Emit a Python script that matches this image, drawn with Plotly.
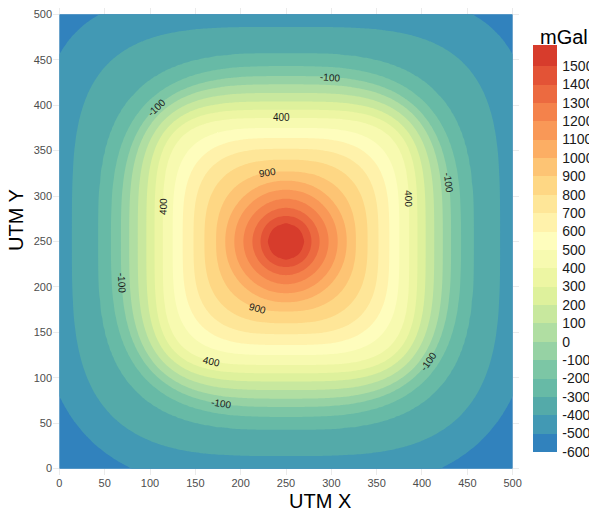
import numpy as np
import plotly.graph_objects as go

# Gravity anomaly (mGal) over a 500 x 500 UTM block.
# Each contour level is described by where it crosses the centre lines
# (distance from the anomaly centre along x / y) and the diagonals
# (offset along each axis where it crosses |dx| = |dy|).
levels = [-600, -500, -400, -300, -200, -100, 0, 100, 200, 300, 400, 500,
          600, 700, 800, 900, 1000, 1100, 1200, 1300, 1400, 1500]
axis_dist = [330, 275, 236, 207, 193, 182, 173, 163.5, 154, 145, 136, 125,
             114, 102, 90, 77, 67, 57, 47, 37, 28, 20]
diag_dist_south = [262, 217, 192, 165, 153, 145.5, 140, 134, 128, 122, 115, 104,
                   93, 82, 70, 58, 48, 40.5, 33, 26, 20, 14]
diag_dist_north = [275, 231, 196, 165, 153, 145.5, 140, 134, 128, 122, 115, 104,
                   93, 82, 70, 58, 48, 40.5, 33, 26, 20, 14]
peak_mgal = 1610
centre_x, centre_y = 250, 250

# contour labels: level and bearing (degrees from +x, about the centre)
label_levels = [-100, -100, -100, -100, -100, -100, 400, 400, 400, 400, 900, 900]
label_bearings = [75, 134, 194, 248, 20, 320, 92, 164, 19, 238, 105, 247]

axis_ticks = list(range(0, 501, 50))
cbar_vals = list(range(-600, 1501, 100))
cbar_text = [str(v) for v in cbar_vals]

# fill colour below -600, then one colour per 100 mGal band up to 1500+
band_colors = ['#3182bd', '#3182bd', '#4299b4', '#54aaa9', '#67baa6', '#7cc6a5',
               '#96d2a4', '#b0dea2', '#c8e89e', '#def19c', '#edf6a3', '#f7fab0',
               '#fefdbd', '#fff2ab', '#fee698', '#fed784', '#fdc474', '#fcae64',
               '#f99857', '#f4824b', '#ec6a40', '#e35336', '#d73c2c']

FONT = "Liberation Sans, Arial, sans-serif"


def shape_params(k, north):
    a = axis_dist[k]
    d = (diag_dist_north if north else diag_dist_south)[k]
    return a, np.log(0.5) / np.log(d / a)


# ---- gridded field built from the level crossings -------------------------
step = 2.5
gx = np.arange(0, 500 + step / 2, step)
gy = gx.copy()
X, Y = np.meshgrid(gx, gy)
u = np.abs(X - centre_x)
v = np.abs(Y - centre_y)
rho = np.hypot(u, v)


def level_radii(diag):
    """Distance from the centre to each contour along the ray through every node."""
    a = np.array(axis_dist, float)[:, None, None]
    d = np.array(diag, float)[:, None, None]
    p = np.log(0.5) / np.log(d / a)
    gauge = ((u / a) ** p + (v / a) ** p) ** (1 / p)
    with np.errstate(divide="ignore", invalid="ignore"):
        r = np.where(gauge > 0, rho / gauge, 0.0)
    return r


R = np.where(Y[None] > centre_y, level_radii(diag_dist_north), level_radii(diag_dist_south))
R_asc = np.concatenate([np.zeros((1,) + rho.shape), R[::-1]], axis=0)
R_asc = np.maximum.accumulate(R_asc, axis=0)
L_asc = np.array([peak_mgal] + levels[::-1], float)

idx = np.clip((R_asc < rho[None]).sum(axis=0), 1, len(L_asc) - 1)
lo = idx - 1
r_lo = np.take_along_axis(R_asc, lo[None], 0)[0]
r_hi = np.take_along_axis(R_asc, idx[None], 0)[0]
t = (rho - r_lo) / np.maximum(r_hi - r_lo, 1e-9)
z = L_asc[lo] + t * (L_asc[idx] - L_asc[lo])


def label_on_contour(level, bearing):
    """Point where a contour crosses a bearing, and the text angle along it."""
    k = levels.index(level)
    th = np.radians(bearing)
    c, s = np.cos(th), np.sin(th)
    a, p = shape_params(k, s > 0)
    gauge = ((abs(c) / a) ** p + (abs(s) / a) ** p) ** (1 / p)
    r = 1.0 / gauge
    nx = np.sign(c) * abs(c) ** (p - 1)
    ny = np.sign(s) * abs(s) ** (p - 1)
    tx, ty = -ny, nx
    ang = np.degrees(np.arctan2(-ty, tx))
    while ang > 90:
        ang -= 180
    while ang <= -90:
        ang += 180
    return centre_x + r * c, centre_y + r * s, ang


# ---- figure ----------------------------------------------------------------
W, H = 589, 513
ML, MR, MT, MB = 53, 70, 8, 38
pw, ph = W - ML - MR, H - MT - MB


def px_to_paper(px, py):
    return (px - ML) / pw, (H - MB - py) / ph


fig = go.Figure()

fill_scale = [[k / (len(band_colors) - 1), c] for k, c in enumerate(band_colors)]
fig.add_trace(go.Contour(
    x=gx, y=gy, z=z, autocontour=False,
    contours=dict(start=-600, end=1500, size=100, coloring="fill", showlines=False),
    colorscale=fill_scale, showscale=False, line=dict(width=0),
    hoverinfo="skip", showlegend=False))

# stepped colour bar
cmin, cmax = -600, 1615
bar_scale = []
edges = [cmin] + levels[1:] + [cmax]
for j in range(len(edges) - 1):
    c = band_colors[j + 1]
    bar_scale.append([(edges[j] - cmin) / (cmax - cmin), c])
    bar_scale.append([(edges[j + 1] - cmin) / (cmax - cmin), c])

fig.add_trace(go.Scatter(
    x=[centre_x], y=[centre_y], mode="markers", hoverinfo="skip", showlegend=False,
    marker=dict(size=1, opacity=0, color=[0], cmin=cmin, cmax=cmax,
                colorscale=bar_scale, showscale=True,
                colorbar=dict(thickness=24, thicknessmode="pixels",
                              len=407, lenmode="pixels",
                              xref="container", x=533 / W, xanchor="left",
                              yref="container", y=1 - 49.3 / H, yanchor="top",
                              xpad=0, ypad=0, outlinewidth=0,
                              tickvals=cbar_vals, ticktext=cbar_text,
                              ticks="outside", ticklen=3, tickcolor="rgba(0,0,0,0)",
                              tickfont=dict(size=14, color="#1a1a1a", family=FONT)))))

axis_common = dict(range=[-7, 507], tickvals=axis_ticks, showgrid=True,
                   gridcolor="#ebebeb", gridwidth=1, zeroline=False, showline=False,
                   ticks="", tickfont=dict(size=11, color="#4d4d4d", family=FONT),
                   automargin=False)
fig.update_xaxes(**axis_common)
fig.update_yaxes(**axis_common)

annotations = []
for lev, brg in zip(label_levels, label_bearings):
    lx, ly, ang = label_on_contour(lev, brg)
    annotations.append(dict(text=str(lev), x=lx, y=ly, xref="x", yref="y",
                            textangle=ang, showarrow=False,
                            xanchor="center", yanchor="middle",
                            font=dict(size=10, color="#1a1a1a", family=FONT)))

ax_x, ax_y = px_to_paper(320, 501)
ay_x, ay_y = px_to_paper(16, 220)
mg_x, mg_y = px_to_paper(538, 37)
annotations += [
    dict(text="UTM X", x=ax_x, y=ax_y, xref="paper", yref="paper",
         xanchor="center", yanchor="middle",
         showarrow=False, font=dict(size=20, color="#000000")),
    dict(text="UTM Y", x=ay_x, y=ay_y, xref="paper", yref="paper", textangle=-90,
         xanchor="center", yanchor="middle",
         showarrow=False, font=dict(size=20, color="#000000")),
    dict(text="mGal", x=mg_x, y=mg_y, xref="paper", yref="paper",
         xanchor="left", yanchor="middle",
         showarrow=False, font=dict(size=20, color="#000000")),
]

fig.update_layout(
    width=W, height=H, margin=dict(l=ML, r=MR, t=MT, b=MB, autoexpand=False),
    showlegend=False,
    paper_bgcolor="white", plot_bgcolor="white",
    font=dict(family=FONT),
    annotations=annotations,
)

fig.write_html("out.html")
